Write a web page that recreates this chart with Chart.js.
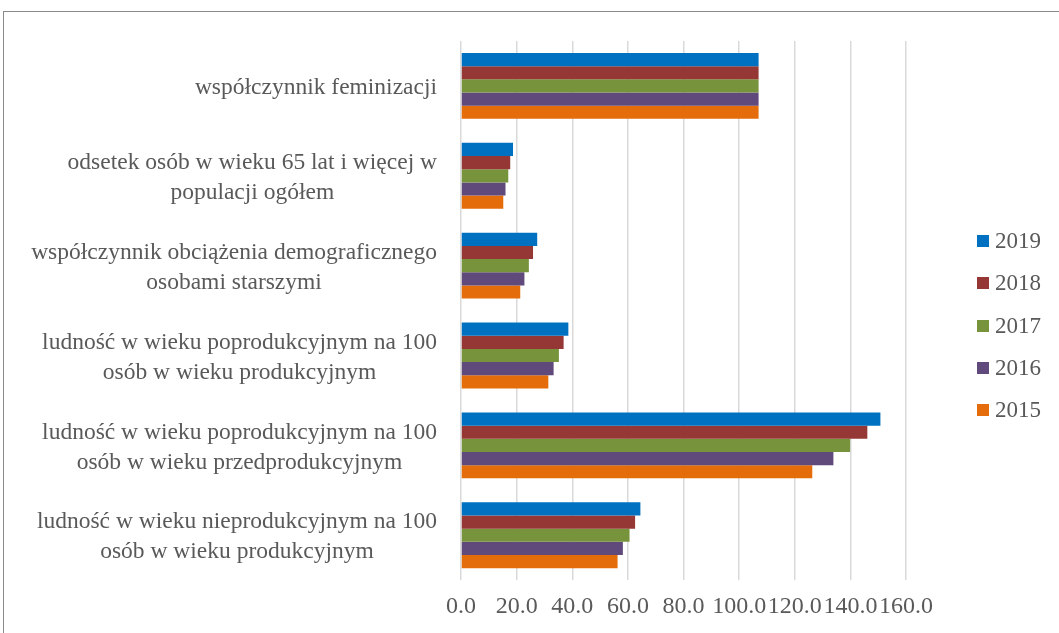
<!DOCTYPE html>
<html>
<head>
<meta charset="utf-8">
<script src="https://cdn.jsdelivr.net/npm/chart.js@4"></script>
<style>
  html, body { margin: 0; padding: 0; background: #fff; overflow: hidden; }
  body { width: 1059px; height: 633px; position: relative; }
  .frame {
    position: absolute; left: 3px; top: 11px;
    width: 1100px; height: 700px;
    border: 1px solid #8a8a8a;
  }
  #chartBox { position: absolute; left: 0; top: 0; width: 1059px; height: 633px; }
  #legend {
    position: absolute; left: 977px; top: 220px;
    font-family: "Liberation Serif", "Times New Roman", serif;
    font-size: 23px; color: #595959;
  }
  .legend-item { height: 42.3px; display: flex; align-items: center; }
  .legend-swatch { width: 12px; height: 12px; margin-right: 6px; }
</style>
</head>
<body>
<div class="frame"></div>
<div id="chartBox"><canvas id="chart" width="1059" height="633"></canvas></div>
<div id="legend"></div>

<script>
// Categories (each one split into the lines shown on the chart)
const CATEGORIES = [
    ['współczynnik feminizacji'],
    ['odsetek osób w wieku 65 lat i więcej w', 'populacji ogółem'],
    ['współczynnik obciążenia demograficznego', 'osobami starszymi'],
    ['ludność w wieku poprodukcyjnym na 100', 'osób w wieku produkcyjnym'],
    ['ludność w wieku poprodukcyjnym na 100', 'osób w wieku przedprodukcyjnym'],
    ['ludność w wieku nieprodukcyjnym na 100', 'osób w wieku produkcyjnym']
];

const YEARS = ['2019', '2018', '2017', '2016', '2015'];

const VALUES_2019 = [107.0, 18.7, 27.4, 38.6, 150.8, 64.5];
const VALUES_2018 = [107.0, 17.7, 25.9, 36.9, 146.1, 62.6];
const VALUES_2017 = [107.0, 17.0, 24.4, 35.2, 139.9, 60.6];
const VALUES_2016 = [107.0, 16.0, 22.8, 33.3, 133.9, 58.2];
const VALUES_2015 = [107.0, 15.2, 21.3, 31.4, 126.3, 56.3];

const X_TICKS = [0, 20, 40, 60, 80, 100, 120, 140, 160];

const COLORS = ['#0070C0', '#953735', '#77933C', '#604A7B', '#E46C0A'];
const FONT_FAMILY = '"Liberation Serif", "Times New Roman", serif';
const TEXT_COLOR = '#595959';
const LINE_HEIGHT = 30;

// Draws the category names, each line centred on the widest line of its label
const categoryLabelsPlugin = {
    id: 'categoryLabels',
    afterDraw(chart) {
        const ctx = chart.ctx;
        const yScale = chart.scales.y;
        const rightEdge = chart.chartArea.left - 24;

        ctx.save();
        ctx.font = `23.5px ${FONT_FAMILY}`;
        ctx.fillStyle = TEXT_COLOR;
        ctx.textAlign = 'center';
        ctx.textBaseline = 'middle';

        CATEGORIES.forEach((lines, i) => {
            const y = yScale.getPixelForValue(i) + 2;
            const widest = Math.max(...lines.map(l => ctx.measureText(l).width));
            const cx = rightEdge - widest / 2;
            const firstY = y - (lines.length - 1) * LINE_HEIGHT / 2;
            lines.forEach((line, j) => ctx.fillText(line, cx, firstY + j * LINE_HEIGHT));
        });
        ctx.restore();
    }
};

const seriesValues = [VALUES_2019, VALUES_2018, VALUES_2017, VALUES_2016, VALUES_2015];

const chart = new Chart(document.getElementById('chart'), {
    type: 'bar',
    data: {
        labels: CATEGORIES.map(lines => lines.join(' ')),
        datasets: YEARS.map((year, i) => ({
            label: year,
            data: seriesValues[i],
            backgroundColor: COLORS[i],
            borderWidth: 0,
            categoryPercentage: 0.733,
            barPercentage: 1.0
        }))
    },
    options: {
        indexAxis: 'y',
        responsive: false,
        animation: false,
        layout: {
            padding: { left: 461, top: 41, right: 153, bottom: 0 }
        },
        plugins: {
            legend: { display: false },
            tooltip: { enabled: false }
        },
        scales: {
            x: {
                min: X_TICKS[0],
                max: X_TICKS[X_TICKS.length - 1],
                afterBuildTicks: scale => {
                    scale.ticks = X_TICKS.map(v => ({ value: v }));
                },
                ticks: {
                    callback: v => Number(v).toFixed(1),
                    color: TEXT_COLOR,
                    font: { family: FONT_FAMILY, size: 24 },
                    padding: 12,
                    maxRotation: 0,
                    autoSkip: false
                },
                grid: {
                    color: '#d9d9d9',
                    lineWidth: 1.5,
                    drawTicks: false
                },
                border: { display: false }
            },
            y: {
                display: false
            }
        }
    },
    plugins: [categoryLabelsPlugin]
});

// HTML legend built from the chart's datasets
const legendBox = document.getElementById('legend');
chart.data.datasets.forEach(ds => {
    const item = document.createElement('div');
    item.className = 'legend-item';
    item.innerHTML = `<span class="legend-swatch" style="background:${ds.backgroundColor}"></span>${ds.label}`;
    legendBox.appendChild(item);
});
</script>
</body>
</html>
